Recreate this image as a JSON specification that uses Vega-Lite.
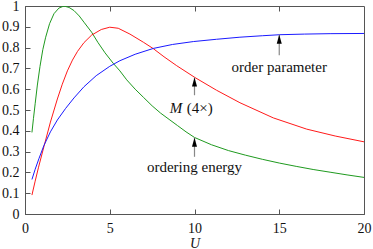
{
  "$schema": "https://vega.github.io/schema/vega-lite/v6.json",
  "autosize": "none",
  "width": 339,
  "height": 208,
  "padding": {"left": 25, "top": 6, "right": 9, "bottom": 35},
  "background": "white",
  "config": {
    "view": {"stroke": "#555", "strokeWidth": 1},
    "font": "Liberation Serif",
    "axis": {
      "grid": false,
      "domainColor": "#555",
      "tickColor": "#555",
      "labelFont": "Liberation Serif",
      "labelFontSize": 14,
      "labelColor": "#111",
      "labelOverlap": false,
      "labelBound": false,
      "titleFont": "Liberation Serif",
      "titleFontSize": 14,
      "titleFontWeight": "normal",
      "titleFontStyle": "italic",
      "titleColor": "#111"
    }
  },
  "datasets": {
    "curves": [
      {"s": "energy", "U": 0.41, "v": 0.392}, {"s": "energy", "U": 0.5, "v": 0.46}, {"s": "energy", "U": 0.6, "v": 0.53},
      {"s": "energy", "U": 0.73, "v": 0.62}, {"s": "energy", "U": 0.885, "v": 0.71}, {"s": "energy", "U": 1.05, "v": 0.79},
      {"s": "energy", "U": 1.22, "v": 0.85}, {"s": "energy", "U": 1.45, "v": 0.915}, {"s": "energy", "U": 1.71, "v": 0.963},
      {"s": "energy", "U": 2.0, "v": 0.99}, {"s": "energy", "U": 2.3, "v": 1.0}, {"s": "energy", "U": 2.6, "v": 0.993},
      {"s": "energy", "U": 2.89, "v": 0.978}, {"s": "energy", "U": 3.2, "v": 0.952}, {"s": "energy", "U": 3.48, "v": 0.922},
      {"s": "energy", "U": 3.93, "v": 0.874}, {"s": "energy", "U": 4.3, "v": 0.825}, {"s": "energy", "U": 4.72, "v": 0.775},
      {"s": "energy", "U": 5.2, "v": 0.725}, {"s": "energy", "U": 5.6, "v": 0.688}, {"s": "energy", "U": 6.0, "v": 0.645},
      {"s": "energy", "U": 6.5, "v": 0.6}, {"s": "energy", "U": 7.0, "v": 0.56}, {"s": "energy", "U": 7.5, "v": 0.52},
      {"s": "energy", "U": 8.0, "v": 0.485}, {"s": "energy", "U": 8.5, "v": 0.455}, {"s": "energy", "U": 9.0, "v": 0.425},
      {"s": "energy", "U": 9.5, "v": 0.395}, {"s": "energy", "U": 10, "v": 0.368}, {"s": "energy", "U": 11, "v": 0.333},
      {"s": "energy", "U": 12, "v": 0.305}, {"s": "energy", "U": 13, "v": 0.283}, {"s": "energy", "U": 14, "v": 0.263},
      {"s": "energy", "U": 15, "v": 0.245}, {"s": "energy", "U": 16, "v": 0.229}, {"s": "energy", "U": 17, "v": 0.214},
      {"s": "energy", "U": 18, "v": 0.201}, {"s": "energy", "U": 19, "v": 0.188}, {"s": "energy", "U": 20, "v": 0.176},

      {"s": "M", "U": 0.41, "v": 0.091}, {"s": "M", "U": 0.6, "v": 0.158}, {"s": "M", "U": 0.8, "v": 0.225},
      {"s": "M", "U": 1.12, "v": 0.325}, {"s": "M", "U": 1.5, "v": 0.442}, {"s": "M", "U": 1.91, "v": 0.553},
      {"s": "M", "U": 2.2, "v": 0.624}, {"s": "M", "U": 2.5, "v": 0.688}, {"s": "M", "U": 2.8, "v": 0.74},
      {"s": "M", "U": 3.1, "v": 0.782}, {"s": "M", "U": 3.48, "v": 0.824}, {"s": "M", "U": 3.93, "v": 0.86},
      {"s": "M", "U": 4.5, "v": 0.887}, {"s": "M", "U": 5.0, "v": 0.898}, {"s": "M", "U": 5.5, "v": 0.893},
      {"s": "M", "U": 6.19, "v": 0.865}, {"s": "M", "U": 7.0, "v": 0.825}, {"s": "M", "U": 7.57, "v": 0.795},
      {"s": "M", "U": 8.2, "v": 0.756}, {"s": "M", "U": 8.95, "v": 0.713}, {"s": "M", "U": 10.03, "v": 0.656},
      {"s": "M", "U": 11.3, "v": 0.595}, {"s": "M", "U": 12.68, "v": 0.535}, {"s": "M", "U": 14.65, "v": 0.462},
      {"s": "M", "U": 16.62, "v": 0.408}, {"s": "M", "U": 18.3, "v": 0.375}, {"s": "M", "U": 20, "v": 0.347},

      {"s": "order", "U": 0.41, "v": 0.166}, {"s": "order", "U": 0.6, "v": 0.215}, {"s": "order", "U": 0.83, "v": 0.268},
      {"s": "order", "U": 1.12, "v": 0.33}, {"s": "order", "U": 1.5, "v": 0.395}, {"s": "order", "U": 1.91, "v": 0.452},
      {"s": "order", "U": 2.4, "v": 0.508}, {"s": "order", "U": 2.89, "v": 0.558}, {"s": "order", "U": 3.48, "v": 0.612},
      {"s": "order", "U": 4.2, "v": 0.665}, {"s": "order", "U": 5.0, "v": 0.71}, {"s": "order", "U": 5.6, "v": 0.737},
      {"s": "order", "U": 6.5, "v": 0.768}, {"s": "order", "U": 7.57, "v": 0.796}, {"s": "order", "U": 8.7, "v": 0.815},
      {"s": "order", "U": 9.93, "v": 0.829}, {"s": "order", "U": 11.3, "v": 0.84}, {"s": "order", "U": 12.68, "v": 0.85},
      {"s": "order", "U": 14, "v": 0.857}, {"s": "order", "U": 15.04, "v": 0.862}, {"s": "order", "U": 16.5, "v": 0.865},
      {"s": "order", "U": 18, "v": 0.867}, {"s": "order", "U": 20, "v": 0.868}
    ],
    "arrows": [
      {"x": 15, "base": 0.763, "tip": 0.862},
      {"x": 10, "base": 0.571, "tip": 0.656},
      {"x": 10, "base": 0.275, "tip": 0.367}
    ],
    "labels": [
      {"x": 15, "y": 0.706, "text": "order parameter"},
      {"x": 10, "y": 0.226, "text": "ordering energy"}
    ],
    "mlabel": [{"x": 9.28, "y": 0.512, "text": "M"}],
    "mfactor": [{"x": 9.55, "y": 0.512, "text": "(4×)"}]
  },
  "resolve": {"axis": {"x": "independent", "y": "independent"}},
  "layer": [
    {
      "data": {"name": "curves"},
      "mark": {"type": "line", "strokeWidth": 1, "clip": true},
      "encoding": {
        "x": {
          "field": "U", "type": "quantitative",
          "scale": {"domain": [0, 20], "nice": false, "zero": false},
          "axis": {"orient": "bottom", "values": [0, 5, 10, 15, 20], "tickSize": -5, "labelPadding": 12, "title": "U", "titlePadding": 1, "labelFlush": false}
        },
        "y": {
          "field": "v", "type": "quantitative",
          "scale": {"domain": [0, 1], "nice": false},
          "axis": {"orient": "left", "values": [0, 0.1, 0.2, 0.3, 0.4, 0.5, 0.6, 0.7, 0.8, 0.9, 1], "format": ".1~f", "tickSize": -5, "labelPadding": 11, "title": null, "labelFlush": false}
        },
        "color": {
          "field": "s", "type": "nominal",
          "scale": {"domain": ["energy", "M", "order"], "range": ["#1f9a1f", "#ff1a1a", "#1a1aff"]},
          "legend": null
        },
        "detail": {"field": "s"}
      }
    },
    {
      "data": {"name": "arrows"},
      "mark": {"type": "rule", "color": "#888", "strokeWidth": 1.2},
      "encoding": {
        "x": {
          "field": "x", "type": "quantitative",
          "axis": {"orient": "top", "values": [5, 10, 15], "tickSize": -5, "labels": false, "domain": false, "title": null}
        },
        "y": {"field": "base", "type": "quantitative", "axis": null},
        "y2": {"field": "tip"}
      }
    },
    {
      "data": {"name": "arrows"},
      "mark": {"type": "point", "filled": true, "color": "#000", "opacity": 1, "size": 324, "shape": "M0,0L0.28,1L-0.28,1Z", "strokeWidth": 0},
      "encoding": {
        "x": {"field": "x", "type": "quantitative", "axis": null},
        "y": {"field": "tip", "type": "quantitative", "axis": null}
      }
    },
    {
      "data": {"name": "labels"},
      "mark": {"type": "text", "font": "Liberation Serif", "fontSize": 15, "color": "#111", "align": "center", "baseline": "middle"},
      "encoding": {
        "x": {"field": "x", "type": "quantitative", "axis": null},
        "y": {"field": "y", "type": "quantitative", "axis": null},
        "text": {"field": "text"}
      }
    },
    {
      "data": {"name": "mlabel"},
      "mark": {"type": "text", "font": "Liberation Serif", "fontSize": 15, "fontStyle": "italic", "color": "#111", "align": "right", "baseline": "middle"},
      "encoding": {
        "x": {"field": "x", "type": "quantitative", "axis": null},
        "y": {"field": "y", "type": "quantitative", "axis": null},
        "text": {"field": "text"}
      }
    },
    {
      "data": {"name": "mfactor"},
      "mark": {"type": "text", "font": "Liberation Serif", "fontSize": 15, "color": "#111", "align": "left", "baseline": "middle"},
      "encoding": {
        "x": {"field": "x", "type": "quantitative", "axis": null},
        "y": {"field": "y", "type": "quantitative", "axis": null},
        "text": {"field": "text"}
      }
    }
  ]
}
